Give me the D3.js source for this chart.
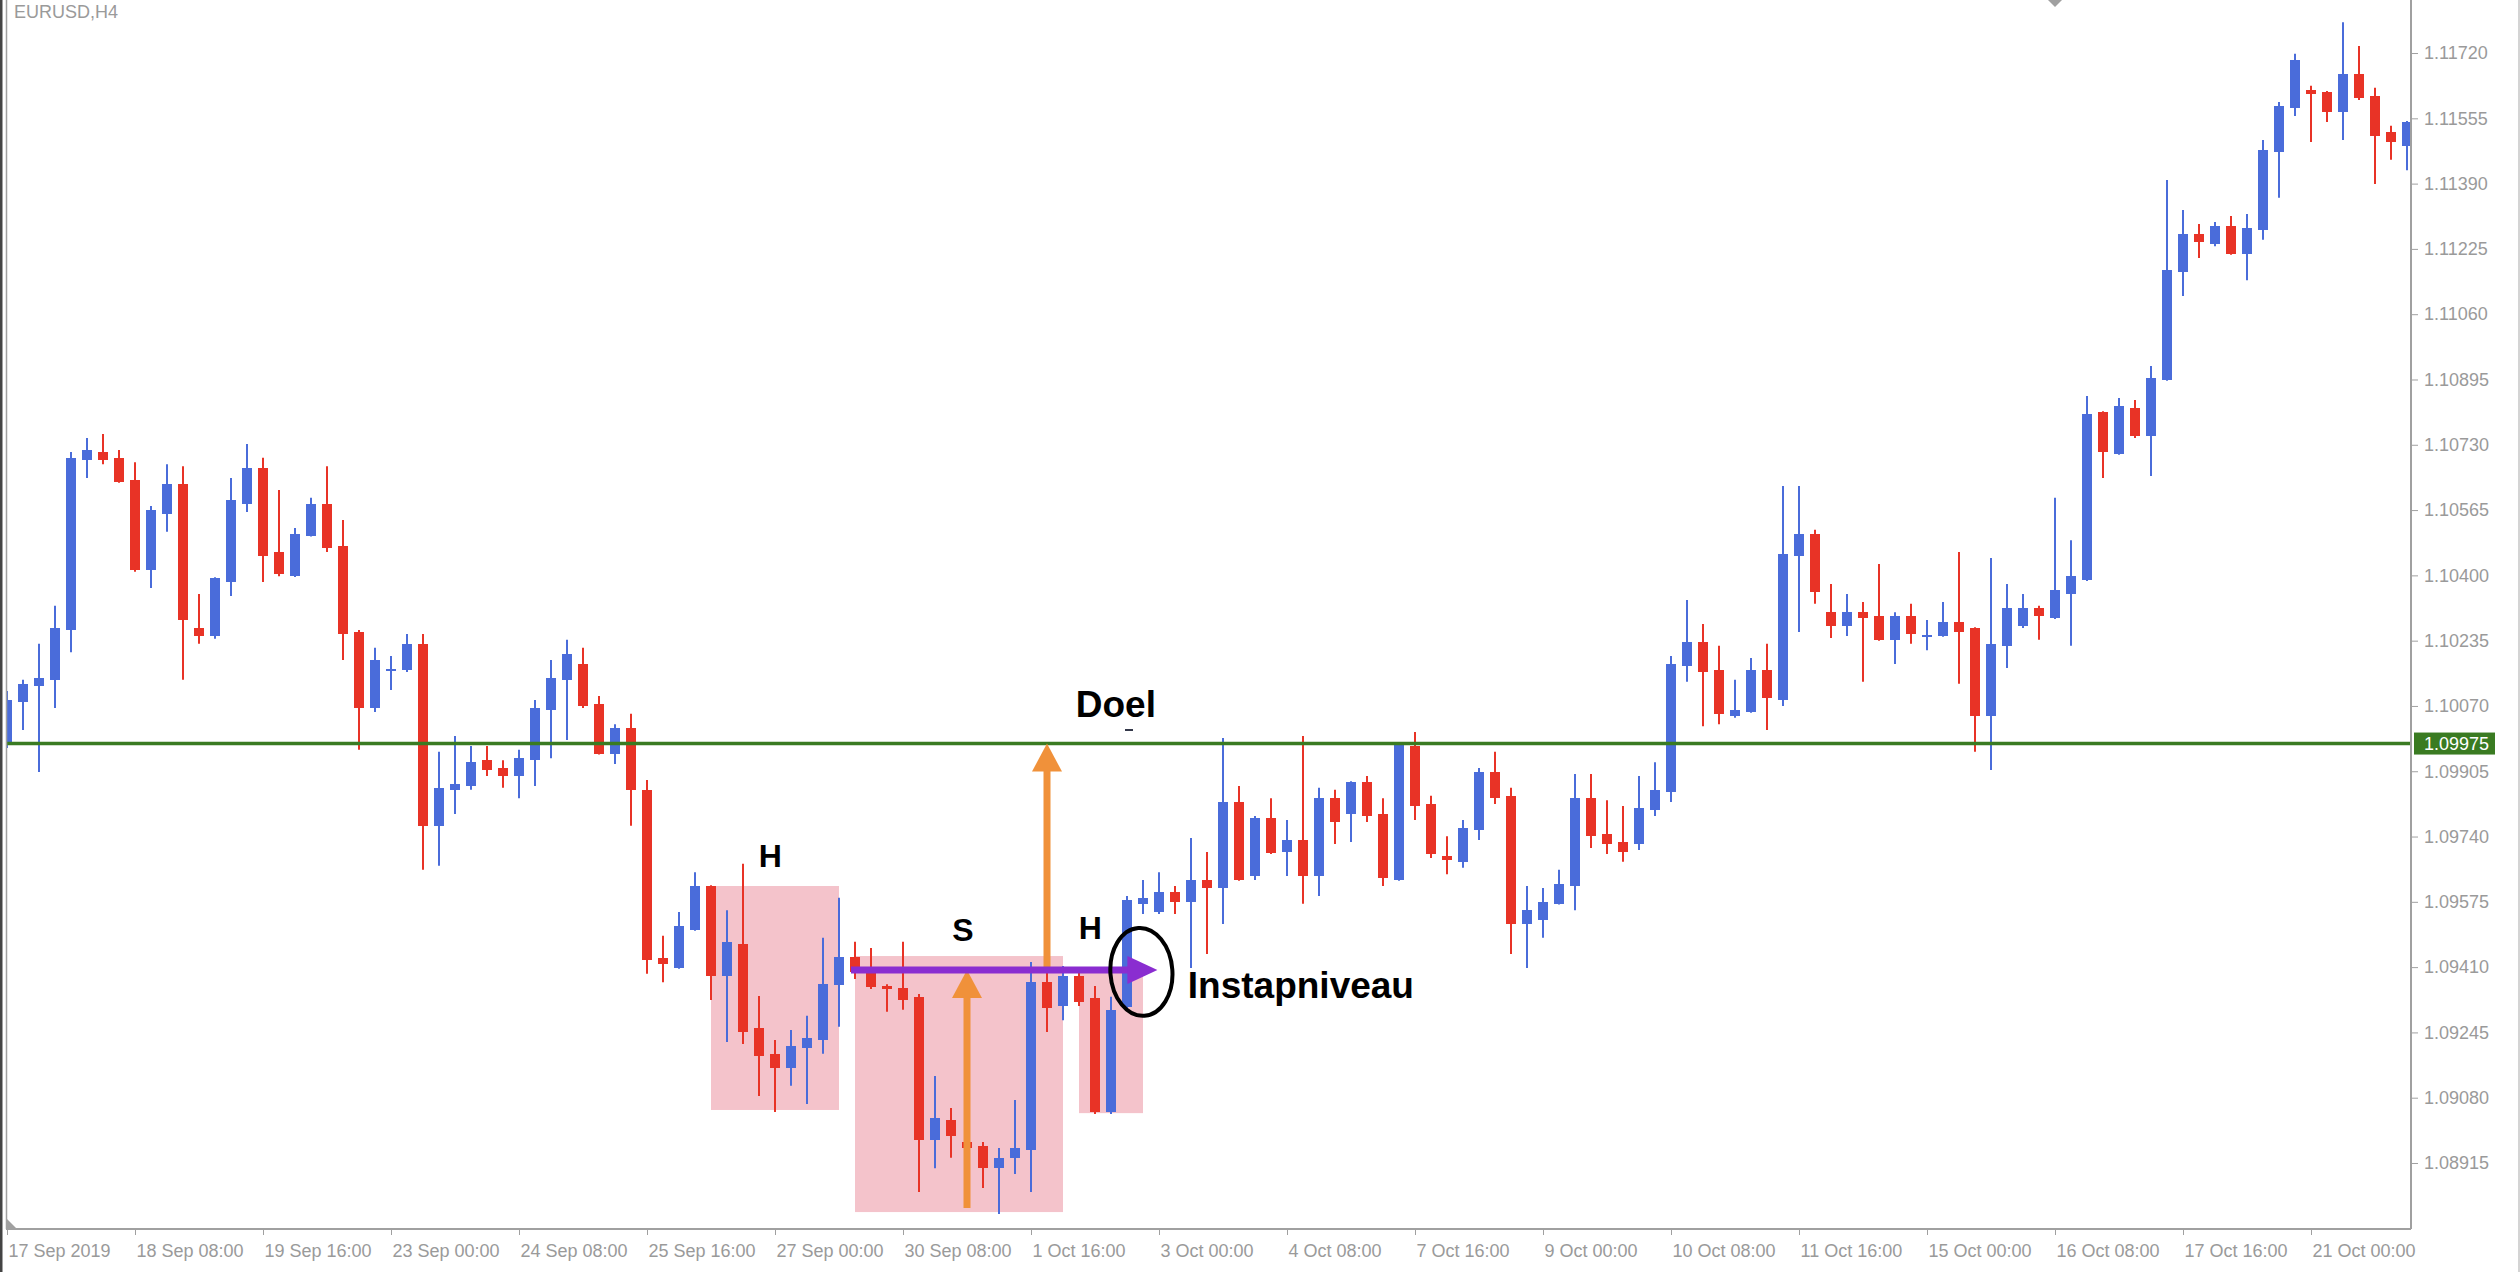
<!DOCTYPE html>
<html>
<head>
<meta charset="utf-8">
<script src="https://cdnjs.cloudflare.com/ajax/libs/d3/7.8.5/d3.min.js"></script>
<style>
  html, body { margin: 0; padding: 0; background: #fff; overflow: hidden; }
  .axis text { font-family: "Liberation Sans", Arial, sans-serif; font-size: 18px; fill: #9a9a9a; }
  .axis line, .axis path { stroke: #a0a0a0; }
  .note { font-family: "Liberation Sans", Arial, sans-serif; font-weight: bold; fill: #000; }
</style>
</head>
<body>
<div id="chart"></div>
<script>
// EURUSD H4, 17 Sep 2019 00:00 .. 21 Oct 2019 24:00, one entry per bar
var openP = [
  1.09971,1.10080,1.10120,1.10136,1.10262,1.10692,1.10712,1.10697,1.10641,1.10414,
  1.10555,1.10631,1.10267,1.10247,1.10383,1.10580,1.10671,1.10459,1.10398,1.10500,
  1.10580,1.10474,1.10257,1.10065,1.10163,1.10161,1.10227,1.09767,1.09858,1.09868,
  1.09933,1.09913,1.09893,1.09933,1.10060,1.10136,1.10176,1.10075,1.09949,1.10014,
  1.09858,1.09433,1.09408,1.09504,1.09615,1.09388,1.09469,1.09256,1.09191,1.09155,
  1.09206,1.09226,1.09365,1.09436,1.09395,1.09362,1.09357,1.09335,1.08973,1.09024,
  1.08968,1.08958,1.08902,1.08928,1.08948,1.09372,1.09312,1.09388,1.09332,1.09044,
  1.09309,1.09570,1.09549,1.09600,1.09575,1.09630,1.09610,1.09827,1.09640,1.09787,
  1.09701,1.09731,1.09640,1.09837,1.09797,1.09878,1.09797,1.09630,1.09969,1.09822,
  1.09691,1.09676,1.09757,1.09903,1.09843,1.09519,1.09529,1.09570,1.09615,1.09837,
  1.09746,1.09726,1.09721,1.09807,1.09853,1.10171,1.10232,1.10161,1.10045,1.10055,
  1.10161,1.10085,1.10449,1.10505,1.10307,1.10272,1.10307,1.10297,1.10237,1.10297,
  1.10249,1.10247,1.10282,1.10267,1.10045,1.10222,1.10272,1.10318,1.10292,1.10353,
  1.10388,1.10813,1.10707,1.10823,1.10752,1.10894,1.11167,1.11263,1.11237,1.11283,
  1.11212,1.11273,1.11470,1.11581,1.11627,1.11622,1.11571,1.11667,1.11611,1.11520,
  1.11485
];
var highP = [
  1.10108,1.10136,1.10227,1.10323,1.10712,1.10747,1.10757,1.10717,1.10686,1.10575,
  1.10681,1.10676,1.10353,1.10395,1.10646,1.10732,1.10697,1.10616,1.10520,1.10596,
  1.10676,1.10540,1.10262,1.10217,1.10196,1.10252,1.10252,1.09954,1.09994,1.09969,
  1.09969,1.09933,1.09959,1.10085,1.10186,1.10237,1.10217,1.10095,1.10024,1.10050,
  1.09883,1.09489,1.09549,1.09650,1.09617,1.09554,1.09671,1.09337,1.09226,1.09251,
  1.09287,1.09484,1.09585,1.09474,1.09458,1.09367,1.09474,1.09342,1.09135,1.09054,
  1.08978,1.08968,1.08953,1.09074,1.09423,1.09403,1.09413,1.09403,1.09362,1.09335,
  1.09590,1.09630,1.09650,1.09615,1.09736,1.09701,1.09989,1.09868,1.09792,1.09837,
  1.09782,1.09994,1.09863,1.09858,1.09880,1.09893,1.09837,1.09976,1.10004,1.09843,
  1.09741,1.09782,1.09913,1.09954,1.09863,1.09615,1.09610,1.09656,1.09898,1.09898,
  1.09832,1.09817,1.09893,1.09928,1.10196,1.10338,1.10277,1.10222,1.10136,1.10191,
  1.10227,1.10626,1.10626,1.10515,1.10378,1.10353,1.10333,1.10429,1.10307,1.10328,
  1.10287,1.10333,1.10459,1.10269,1.10444,1.10378,1.10353,1.10323,1.10596,1.10489,
  1.10853,1.10815,1.10848,1.10843,1.10929,1.11399,1.11323,1.11288,1.11293,1.11308,
  1.11313,1.11500,1.11596,1.11718,1.11637,1.11624,1.11798,1.11738,1.11632,1.11536,
  1.11548
];
var lowP = [
  1.09964,1.10009,1.09903,1.10065,1.10206,1.10646,1.10681,1.10634,1.10409,1.10368,
  1.10510,1.10136,1.10227,1.10240,1.10348,1.10560,1.10383,1.10398,1.10396,1.10498,
  1.10459,1.10186,1.09959,1.10055,1.10110,1.10156,1.09656,1.09666,1.09797,1.09858,
  1.09893,1.09863,1.09837,1.09868,1.09938,1.09984,1.10065,1.09947,1.09923,1.09767,
  1.09393,1.09372,1.09406,1.09502,1.09327,1.09221,1.09216,1.09084,1.09044,1.09110,
  1.09064,1.09191,1.09259,1.09380,1.09355,1.09297,1.09302,1.08842,1.08902,1.08928,
  1.08923,1.08852,1.08786,1.08887,1.08842,1.09246,1.09276,1.09312,1.09039,1.09039,
  1.09302,1.09544,1.09544,1.09544,1.09408,1.09443,1.09519,1.09628,1.09630,1.09696,
  1.09640,1.09570,1.09590,1.09721,1.09726,1.09777,1.09615,1.09628,1.09782,1.09686,
  1.09645,1.09661,1.09731,1.09822,1.09443,1.09408,1.09484,1.09568,1.09554,1.09711,
  1.09696,1.09676,1.09706,1.09792,1.09827,1.10131,1.10019,1.10024,1.10040,1.10053,
  1.10009,1.10070,1.10257,1.10328,1.10242,1.10247,1.10131,1.10235,1.10176,1.10227,
  1.10211,1.10245,1.10126,1.09954,1.09908,1.10166,1.10267,1.10237,1.10290,1.10222,
  1.10386,1.10646,1.10705,1.10747,1.10651,1.10892,1.11106,1.11202,1.11232,1.11210,
  1.11146,1.11248,1.11354,1.11561,1.11495,1.11546,1.11500,1.11601,1.11389,1.11450,
  1.11424
];
var closeP = [
  1.10085,1.10126,1.10141,1.10267,1.10697,1.10717,1.10692,1.10636,1.10414,1.10565,
  1.10631,1.10287,1.10247,1.10393,1.10591,1.10671,1.10449,1.10403,1.10505,1.10580,
  1.10469,1.10252,1.10065,1.10186,1.10163,1.10227,1.09767,1.09863,1.09873,1.09928,
  1.09908,1.09893,1.09938,1.10065,1.10141,1.10201,1.10070,1.09949,1.10014,1.09858,
  1.09428,1.09418,1.09514,1.09615,1.09388,1.09474,1.09246,1.09185,1.09155,1.09211,
  1.09231,1.09367,1.09436,1.09398,1.09360,1.09355,1.09327,1.08973,1.09029,1.08983,
  1.08953,1.08902,1.08928,1.08953,1.09372,1.09307,1.09388,1.09322,1.09044,1.09302,
  1.09580,1.09585,1.09600,1.09575,1.09630,1.09610,1.09827,1.09630,1.09787,1.09698,
  1.09731,1.09640,1.09837,1.09777,1.09878,1.09792,1.09635,1.09974,1.09817,1.09696,
  1.09681,1.09762,1.09903,1.09837,1.09519,1.09554,1.09575,1.09620,1.09837,1.09741,
  1.09721,1.09701,1.09812,1.09858,1.10176,1.10232,1.10156,1.10050,1.10060,1.10161,
  1.10090,1.10454,1.10505,1.10358,1.10272,1.10307,1.10292,1.10237,1.10297,1.10252,
  1.10250,1.10282,1.10257,1.10045,1.10227,1.10318,1.10318,1.10297,1.10363,1.10398,
  1.10808,1.10712,1.10828,1.10752,1.10899,1.11172,1.11263,1.11242,1.11283,1.11212,
  1.11278,1.11475,1.11586,1.11702,1.11617,1.11571,1.11667,1.11606,1.11510,1.11495,
  1.11546
];

// time axis labels, one every 8 bars
var xLabels = ["17 Sep 2019","18 Sep 08:00","19 Sep 16:00","23 Sep 00:00","24 Sep 08:00",
  "25 Sep 16:00","27 Sep 00:00","30 Sep 08:00","1 Oct 16:00","3 Oct 00:00","4 Oct 08:00",
  "7 Oct 16:00","9 Oct 00:00","10 Oct 08:00","11 Oct 16:00","15 Oct 00:00","16 Oct 08:00",
  "17 Oct 16:00","21 Oct 00:00"];
var yTicks = [1.08915,1.09080,1.09245,1.09410,1.09575,1.09740,1.09905,1.10070,1.10235,
  1.10400,1.10565,1.10730,1.10895,1.11060,1.11225,1.11390,1.11555,1.11720];
var levelPrice = 1.09975;

// pattern drawn on the chart (bar index / price)
var zones = [
  {from: 44, to: 52, top: 1.09615, bottom: 1.09049},
  {from: 53, to: 66, top: 1.09438, bottom: 1.08791},
  {from: 67, to: 71, top: 1.09408, bottom: 1.09041}
];
var entryLine = {from: 52.75, to: 71.9, price: 1.09403};
var upArrows = [
  {bar: 60, from: 1.08801, to: 1.09403},
  {bar: 65, from: 1.09403, to: 1.09975}
];
var ring = {bar: 70.9, price: 1.09398};
var notes = [
  {text: "H", bar: 47.7, price: 1.09663, size: 32, anchor: "middle"},
  {text: "S", bar: 59.75, price: 1.09476, size: 32, anchor: "middle"},
  {text: "H", bar: 67.7, price: 1.09481, size: 32, anchor: "middle"},
  {text: "Doel", bar: 66.8, price: 1.10042, size: 37, anchor: "start"},
  {text: "Instapniveau", bar: 73.8, price: 1.09332, size: 37, anchor: "start"}
];

var W = 2520, H = 1272;
var plotL = 7, plotR = 2411, plotB = 1229;

var bars = openP.map(function(o, i) {
  return {i: i, o: o, h: highP[i], l: lowP[i], c: closeP[i]};
});

var x = d3.scaleLinear().domain([0, 150]).range([7, 2407]);
var y = d3.scaleLinear().domain([1.087482, 1.11854]).range([plotB, 0]);

var svg = d3.select("#chart").append("svg")
  .attr("width", W).attr("height", H)
  .style("display", "block");

svg.append("rect").attr("width", W).attr("height", H).attr("fill", "#fff");

svg.append("clipPath").attr("id", "plotClip")
  .append("rect").attr("x", plotL).attr("y", 0)
  .attr("width", plotR - plotL).attr("height", plotB);

var plot = svg.append("g").attr("clip-path", "url(#plotClip)");

// shaded pattern zones (behind candles)
plot.selectAll(".zone").data(zones).enter().append("rect")
  .attr("class", "zone")
  .attr("x", function(d) { return x(d.from); })
  .attr("y", function(d) { return y(d.top); })
  .attr("width", function(d) { return x(d.to) - x(d.from); })
  .attr("height", function(d) { return y(d.bottom) - y(d.top); })
  .attr("fill", "#f4c3cb");

var bull = "#4a6cda", bear = "#e83326";

var candle = plot.selectAll(".candle").data(bars).enter().append("g").attr("class", "candle");

candle.append("line")
  .attr("x1", function(d) { return x(d.i); })
  .attr("x2", function(d) { return x(d.i); })
  .attr("y1", function(d) { return y(d.h); })
  .attr("y2", function(d) { return y(d.l); })
  .attr("stroke", function(d) { return d.c >= d.o ? bull : bear; })
  .attr("stroke-width", 2);

candle.append("rect")
  .attr("x", function(d) { return x(d.i) - 5; })
  .attr("y", function(d) { return y(Math.max(d.o, d.c)); })
  .attr("width", 10)
  .attr("height", function(d) { return Math.max(2, Math.abs(y(d.o) - y(d.c))); })
  .attr("fill", function(d) { return d.c >= d.o ? bull : bear; })
  .attr("shape-rendering", "crispEdges");

// horizontal level
plot.append("line")
  .attr("x1", plotL).attr("x2", plotR)
  .attr("y1", y(levelPrice)).attr("y2", y(levelPrice))
  .attr("stroke", "#3a7b22").attr("stroke-width", 3.5);

// orange arrows
var orange = "#f0913a";
upArrows.forEach(function(a) {
  var ax = x(a.bar), y0 = y(a.from), y1 = y(a.to);
  plot.append("line")
    .attr("x1", ax).attr("x2", ax).attr("y1", y0).attr("y2", y1 + 20)
    .attr("stroke", orange).attr("stroke-width", 7);
  plot.append("path")
    .attr("d", "M" + ax + "," + y1 + "L" + (ax + 15) + "," + (y1 + 28) + "L" + (ax - 15) + "," + (y1 + 28) + "Z")
    .attr("fill", orange);
});

// purple entry arrow
var purple = "#8a2dd0";
var ey = y(entryLine.price), ex0 = x(entryLine.from), ex1 = x(entryLine.to);
plot.append("line")
  .attr("x1", ex0).attr("x2", ex1 - 25).attr("y1", ey).attr("y2", ey)
  .attr("stroke", purple).attr("stroke-width", 7);
plot.append("path")
  .attr("d", "M" + ex1 + "," + ey + "L" + (ex1 - 30) + "," + (ey - 14) + "L" + (ex1 - 30) + "," + (ey + 14) + "Z")
  .attr("fill", purple);

// hand drawn ring
plot.append("ellipse")
  .attr("cx", x(ring.bar)).attr("cy", y(ring.price))
  .attr("rx", 31).attr("ry", 44)
  .attr("transform", "rotate(-4," + x(ring.bar) + "," + y(ring.price) + ")")
  .attr("fill", "none").attr("stroke", "#000").attr("stroke-width", 4);

plot.append("line")
  .attr("x1", 1125).attr("x2", 1133).attr("y1", 730).attr("y2", 730)
  .attr("stroke", "#34384a").attr("stroke-width", 2);

// notes
plot.selectAll(".note").data(notes).enter().append("text")
  .attr("class", "note")
  .attr("x", function(d) { return x(d.bar); })
  .attr("y", function(d) { return y(d.price); })
  .attr("text-anchor", function(d) { return d.anchor; })
  .style("font-size", function(d) { return d.size + "px"; })
  .text(function(d) { return d.text; });

// frame
svg.append("rect").attr("x", 0).attr("y", 0).attr("width", 2.5).attr("height", H).attr("fill", "#444");
svg.append("line").attr("x1", 6.5).attr("x2", 6.5).attr("y1", 0).attr("y2", plotB)
  .attr("stroke", "#a0a0a0").attr("stroke-width", 1.5);
svg.append("line").attr("x1", 6).attr("x2", plotR).attr("y1", plotB).attr("y2", plotB)
  .attr("stroke", "#a0a0a0").attr("stroke-width", 2);
svg.append("line").attr("x1", 2519).attr("x2", 2519).attr("y1", 0).attr("y2", H)
  .attr("stroke", "#d4d4d4").attr("stroke-width", 2);
svg.append("path").attr("d", "M7,1219L17,1229L7,1229Z").attr("fill", "#a0a0a0");
svg.append("path").attr("d", "M2048,0L2062,0L2055,7Z").attr("fill", "#a0a0a0");

// price axis
var yAxis = svg.append("g").attr("class", "axis")
  .attr("transform", "translate(" + plotR + ",0)")
  .call(d3.axisRight(y).tickValues(yTicks).tickSize(7).tickPadding(6)
    .tickFormat(d3.format(".5f")));
yAxis.select(".domain").remove();
svg.append("line").attr("x1", plotR).attr("x2", plotR).attr("y1", 0).attr("y2", plotB)
  .attr("stroke", "#a0a0a0").attr("stroke-width", 2);

// current level tag
var tag = svg.append("g").attr("transform", "translate(2414," + y(levelPrice) + ")");
tag.append("rect").attr("x", 0).attr("y", -11).attr("width", 81).attr("height", 22).attr("fill", "#3a7b22");
tag.append("text").attr("x", 10).attr("dy", "0.35em")
  .style("font-family", "'Liberation Sans', Arial, sans-serif").style("font-size", "18px")
  .attr("fill", "#fff").text(d3.format(".5f")(levelPrice));

// time axis
var xAxis = svg.append("g").attr("class", "axis")
  .attr("transform", "translate(0," + plotB + ")")
  .call(d3.axisBottom(x).tickValues(d3.range(0, 151, 8)).tickSize(6).tickPadding(9)
    .tickFormat(function(d, i) { return xLabels[i]; }));
xAxis.select(".domain").remove();
xAxis.selectAll("text").attr("text-anchor", "start").attr("dx", 1);

// symbol caption
svg.append("text").attr("x", 14).attr("y", 18)
  .style("font-family", "'Liberation Sans', Arial, sans-serif").style("font-size", "18px")
  .attr("fill", "#9a9a9a").text("EURUSD,H4");
</script>
</body>
</html>
